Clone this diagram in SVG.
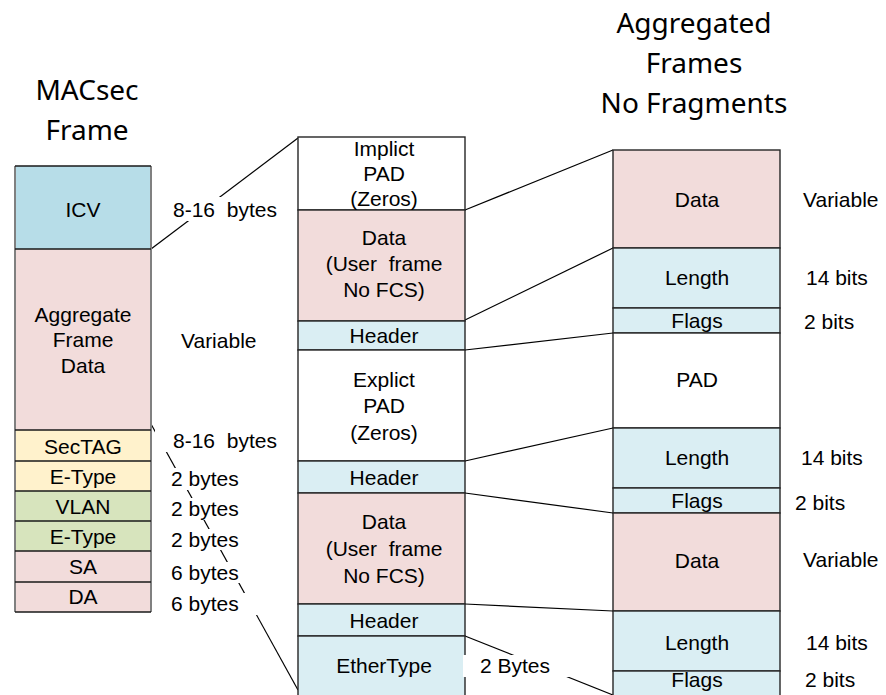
<svg xmlns="http://www.w3.org/2000/svg" width="886" height="695" viewBox="0 0 886 695">
  <style>
    .t { font-family: "Liberation Sans", Arial, sans-serif; font-size: 21px; fill: #000; }
    .c { text-anchor: middle; }
    .h { font-family: "Noto Sans", "Open Sans", sans-serif; font-size: 28px; fill: #000; text-anchor: middle; }
    .blue { fill: #b7dde8; }
    .lblue { fill: #daeef3; }
    .pink { fill: #f2dcdb; }
    .yel { fill: #fff2cc; }
    .grn { fill: #d7e4bd; }
    .white { fill: #ffffff; }
    .hl { stroke: #1a1a1a; stroke-width: 1.5; fill: none; }
    .vl { stroke: #808080; stroke-width: 2; fill: none; }
    .cell { stroke: #262626; stroke-width: 1.4; }
    .link { stroke: #000; stroke-width: 1.2; fill: none; }
    .bg { fill: #ffffff; }
  </style>

  <rect width="886" height="695" fill="#ffffff"/>

  <!-- headings -->
  <g id="title-macsec">
    <text class="h" x="87" y="100">MACsec</text>
    <text class="h" x="87" y="140">Frame</text>
  </g>
  <g id="title-aggregated">
    <text class="h" x="694" y="33">Aggregated</text>
    <text class="h" x="694" y="73">Frames</text>
    <text class="h" x="694" y="113">No Fragments</text>
  </g>

  <!-- connectors -->
  <g id="connectors">
    <line class="link" x1="151" y1="249" x2="298" y2="138"/>
    <line class="link" x1="151" y1="424" x2="298" y2="690"/>
    <line class="link" x1="465" y1="210" x2="613" y2="150"/>
    <line class="link" x1="465" y1="320" x2="613" y2="248"/>
    <line class="link" x1="465" y1="350" x2="613" y2="333"/>
    <line class="link" x1="465" y1="461" x2="613" y2="428"/>
    <line class="link" x1="465" y1="493" x2="613" y2="513"/>
    <line class="link" x1="465" y1="604" x2="613" y2="611"/>
    <line class="link" x1="465" y1="636" x2="613" y2="695"/>
  </g>

  <!-- MACsec frame column -->
  <g id="macsec-frame">
    <rect class="blue" x="15" y="166" width="136" height="83"/>
    <rect class="pink" x="15" y="249" width="136" height="181"/>
    <rect class="yel" x="15" y="430" width="136" height="31"/>
    <rect class="yel" x="15" y="461" width="136" height="30"/>
    <rect class="grn" x="15" y="491" width="136" height="30"/>
    <rect class="grn" x="15" y="521" width="136" height="30"/>
    <rect class="pink" x="15" y="551" width="136" height="31"/>
    <rect class="pink" x="15" y="582" width="136" height="30"/>
    <line class="vl" x1="15" y1="166" x2="15" y2="612"/>
    <line class="vl" x1="151" y1="166" x2="151" y2="612"/>
    <path class="hl" d="M15 166H151M15 249H151M15 430H151M15 461H151M15 491H151M15 521H151M15 551H151M15 582H151M15 612H151"/>
    <text class="t c" x="83" y="217">ICV</text>
    <text class="t c" x="83" y="322">Aggregate</text>
    <text class="t c" x="83" y="347">Frame</text>
    <text class="t c" x="83" y="373">Data</text>
    <text class="t c" x="83" y="454">SecTAG</text>
    <text class="t c" x="83" y="484">E-Type</text>
    <text class="t c" x="83" y="514">VLAN</text>
    <text class="t c" x="83" y="544">E-Type</text>
    <text class="t c" x="83" y="574">SA</text>
    <text class="t c" x="83" y="604">DA</text>
  </g>

  <!-- MACsec field sizes -->
  <g id="macsec-sizes">
    <rect class="bg" x="170" y="197" width="115" height="24"/>
    <text class="t" x="173" y="217" xml:space="preserve">8-16  bytes</text>
    <text class="t" x="181" y="348">Variable</text>
    <rect class="bg" x="155" y="430" width="130" height="22"/>
    <text class="t" x="173" y="448" xml:space="preserve">8-16  bytes</text>
    <rect class="bg" x="168" y="468" width="90" height="22"/>
    <text class="t" x="171" y="486">2 bytes</text>
    <rect class="bg" x="168" y="498" width="90" height="22"/>
    <text class="t" x="171" y="516">2 bytes</text>
    <rect class="bg" x="168" y="529" width="90" height="21"/>
    <text class="t" x="171" y="547">2 bytes</text>
    <rect class="bg" x="168" y="562" width="90" height="21"/>
    <text class="t" x="171" y="580">6 bytes</text>
    <rect class="bg" x="168" y="593" width="90" height="22"/>
    <text class="t" x="171" y="611">6 bytes</text>
  </g>

  <!-- aggregate payload column -->
  <g id="aggregate-payload">
    <rect class="white cell" x="298" y="137" width="167" height="73"/>
    <rect class="pink cell" x="298" y="210" width="167" height="111"/>
    <rect class="lblue cell" x="298" y="321" width="167" height="29"/>
    <rect class="white cell" x="298" y="350" width="167" height="111"/>
    <rect class="lblue cell" x="298" y="461" width="167" height="32"/>
    <rect class="pink cell" x="298" y="493" width="167" height="111"/>
    <rect class="lblue cell" x="298" y="604" width="167" height="32"/>
    <rect class="lblue cell" x="298" y="636" width="167" height="70"/>
    <text class="t c" x="384" y="156">Implict</text>
    <text class="t c" x="384" y="181">PAD</text>
    <text class="t c" x="384" y="206">(Zeros)</text>
    <text class="t c" x="384" y="245">Data</text>
    <text class="t c" x="384" y="271" xml:space="preserve">(User  frame</text>
    <text class="t c" x="384" y="297">No FCS)</text>
    <text class="t c" x="384" y="343">Header</text>
    <text class="t c" x="384" y="387">Explict</text>
    <text class="t c" x="384" y="413">PAD</text>
    <text class="t c" x="384" y="440">(Zeros)</text>
    <text class="t c" x="384" y="485">Header</text>
    <text class="t c" x="384" y="529">Data</text>
    <text class="t c" x="384" y="556" xml:space="preserve">(User  frame</text>
    <text class="t c" x="384" y="583">No FCS)</text>
    <text class="t c" x="384" y="628">Header</text>
    <text class="t c" x="384" y="673">EtherType</text>
  </g>

  <g id="ethertype-size">
    <rect class="bg" x="463" y="655" width="107" height="22"/>
    <text class="t" x="480" y="673">2 Bytes</text>
  </g>

  <!-- aggregated frames column -->
  <g id="aggregated-frames">
    <rect class="pink cell" x="613" y="150" width="167" height="98"/>
    <rect class="lblue cell" x="613" y="248" width="167" height="60"/>
    <rect class="lblue cell" x="613" y="308" width="167" height="25"/>
    <rect class="white cell" x="613" y="333" width="167" height="95"/>
    <rect class="lblue cell" x="613" y="428" width="167" height="60"/>
    <rect class="lblue cell" x="613" y="488" width="167" height="25"/>
    <rect class="pink cell" x="613" y="513" width="167" height="98"/>
    <rect class="lblue cell" x="613" y="611" width="167" height="60"/>
    <rect class="lblue cell" x="613" y="671" width="167" height="40"/>
    <text class="t c" x="697" y="207">Data</text>
    <text class="t c" x="697" y="285">Length</text>
    <text class="t c" x="697" y="328">Flags</text>
    <text class="t c" x="697" y="387">PAD</text>
    <text class="t c" x="697" y="465">Length</text>
    <text class="t c" x="697" y="508">Flags</text>
    <text class="t c" x="697" y="568">Data</text>
    <text class="t c" x="697" y="650">Length</text>
    <text class="t c" x="697" y="687">Flags</text>
  </g>

  <g id="aggregated-sizes">
    <text class="t" x="803" y="207">Variable</text>
    <text class="t" x="806" y="285">14 bits</text>
    <text class="t" x="804" y="329">2 bits</text>
    <text class="t" x="801" y="465">14 bits</text>
    <text class="t" x="795" y="510">2 bits</text>
    <text class="t" x="803" y="567">Variable</text>
    <text class="t" x="806" y="650">14 bits</text>
    <text class="t" x="805" y="687">2 bits</text>
  </g>
</svg>
